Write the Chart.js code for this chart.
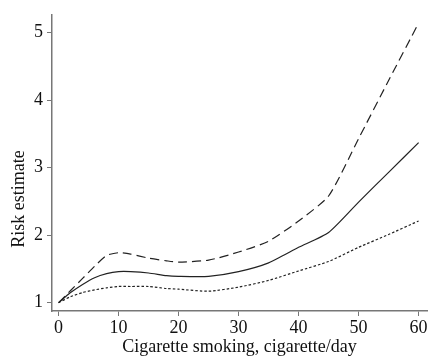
<!DOCTYPE html>
<html>
<head>
<meta charset="utf-8">
<script src="https://cdn.jsdelivr.net/npm/chart.js@4/dist/chart.umd.min.js"></script>
<style>
  html, body { margin: 0; padding: 0; background: #fff; }
  #wrap { width: 440px; height: 364px; }
</style>
</head>
<body>
<div id="wrap"><canvas id="riskChart" width="440" height="364"></canvas></div>
<script>
// cigarettes per day
const doses = [0, 2, 4, 6, 8, 10, 12, 15, 18, 20, 25, 30, 35, 40, 45, 50, 55, 60];
// point estimate (solid)
const riskEstimate = [1.0, 1.15, 1.27, 1.37, 1.43, 1.46, 1.46, 1.44, 1.40, 1.39, 1.39, 1.46, 1.59, 1.82, 2.04, 2.49, 2.93, 3.37];
// upper bound (long dashes)
const upperBound = [1.0, 1.18, 1.36, 1.54, 1.70, 1.74, 1.72, 1.66, 1.62, 1.60, 1.63, 1.75, 1.91, 2.21, 2.58, 3.43, 4.29, 5.14];
// lower bound (short dashes)
const lowerBound = [1.0, 1.09, 1.15, 1.19, 1.22, 1.24, 1.24, 1.24, 1.21, 1.20, 1.17, 1.23, 1.33, 1.47, 1.61, 1.82, 2.01, 2.21];
const xTicks = [0, 10, 20, 30, 40, 50, 60];
const yTicks = [1, 2, 3, 4, 5];

const serif = "'Liberation Serif', 'Times New Roman', serif";
const axisGray = "#777";

function toPoints(ys) {
  return doses.map((d, i) => ({ x: d, y: ys[i] }));
}

function lineSet(label, ys, dash) {
  return {
    label: label,
    data: toPoints(ys),
    borderColor: "#222",
    borderWidth: 1.2,
    borderDash: dash,
    pointRadius: 0,
    fill: false,
    tension: 0.2
  };
}

const ctx = document.getElementById("riskChart").getContext("2d");
new Chart(ctx, {
  type: "line",
  data: {
    datasets: [
      lineSet("Upper", upperBound, [9, 5]),
      lineSet("Estimate", riskEstimate, []),
      lineSet("Lower", lowerBound, [2.5, 2])
    ]
  },
  options: {
    responsive: false,
    animation: false,
    layout: { padding: { top: 15, right: 13, left: 0, bottom: 0 } },
    plugins: { legend: { display: false }, tooltip: { enabled: false } },
    scales: {
      x: {
        type: "linear",
        min: -1.1,
        max: 61.4,
        afterBuildTicks: s => { s.ticks = xTicks.map(v => ({ value: v })); },
        afterFit: s => { s.height = 53; },
        grid: { drawOnChartArea: false, color: axisGray, tickLength: 5 },
        border: { color: axisGray, width: 1.5 },
        ticks: { color: "#111", font: { family: serif, size: 18 }, padding: 1, maxRotation: 0 },
        title: {
          display: true,
          text: "Cigarette smoking, cigarette/day",
          color: "#111",
          font: { family: serif, size: 18 },
          padding: { top: 0, bottom: 6 }
        }
      },
      y: {
        type: "linear",
        min: 0.877,
        max: 5.26,
        afterBuildTicks: s => { s.ticks = yTicks.map(v => ({ value: v })); },
        afterFit: s => { s.width = 52; },
        grid: { drawOnChartArea: false, color: axisGray, tickLength: 5 },
        border: { color: axisGray, width: 1.5 },
        ticks: { color: "#111", font: { family: serif, size: 18 }, padding: 4 },
        title: {
          display: true,
          text: "Risk estimate                ",
          color: "#111",
          font: { family: serif, size: 18 },
          padding: { top: 8, bottom: 0 }
        }
      }
    }
  }
});
</script>
</body>
</html>
